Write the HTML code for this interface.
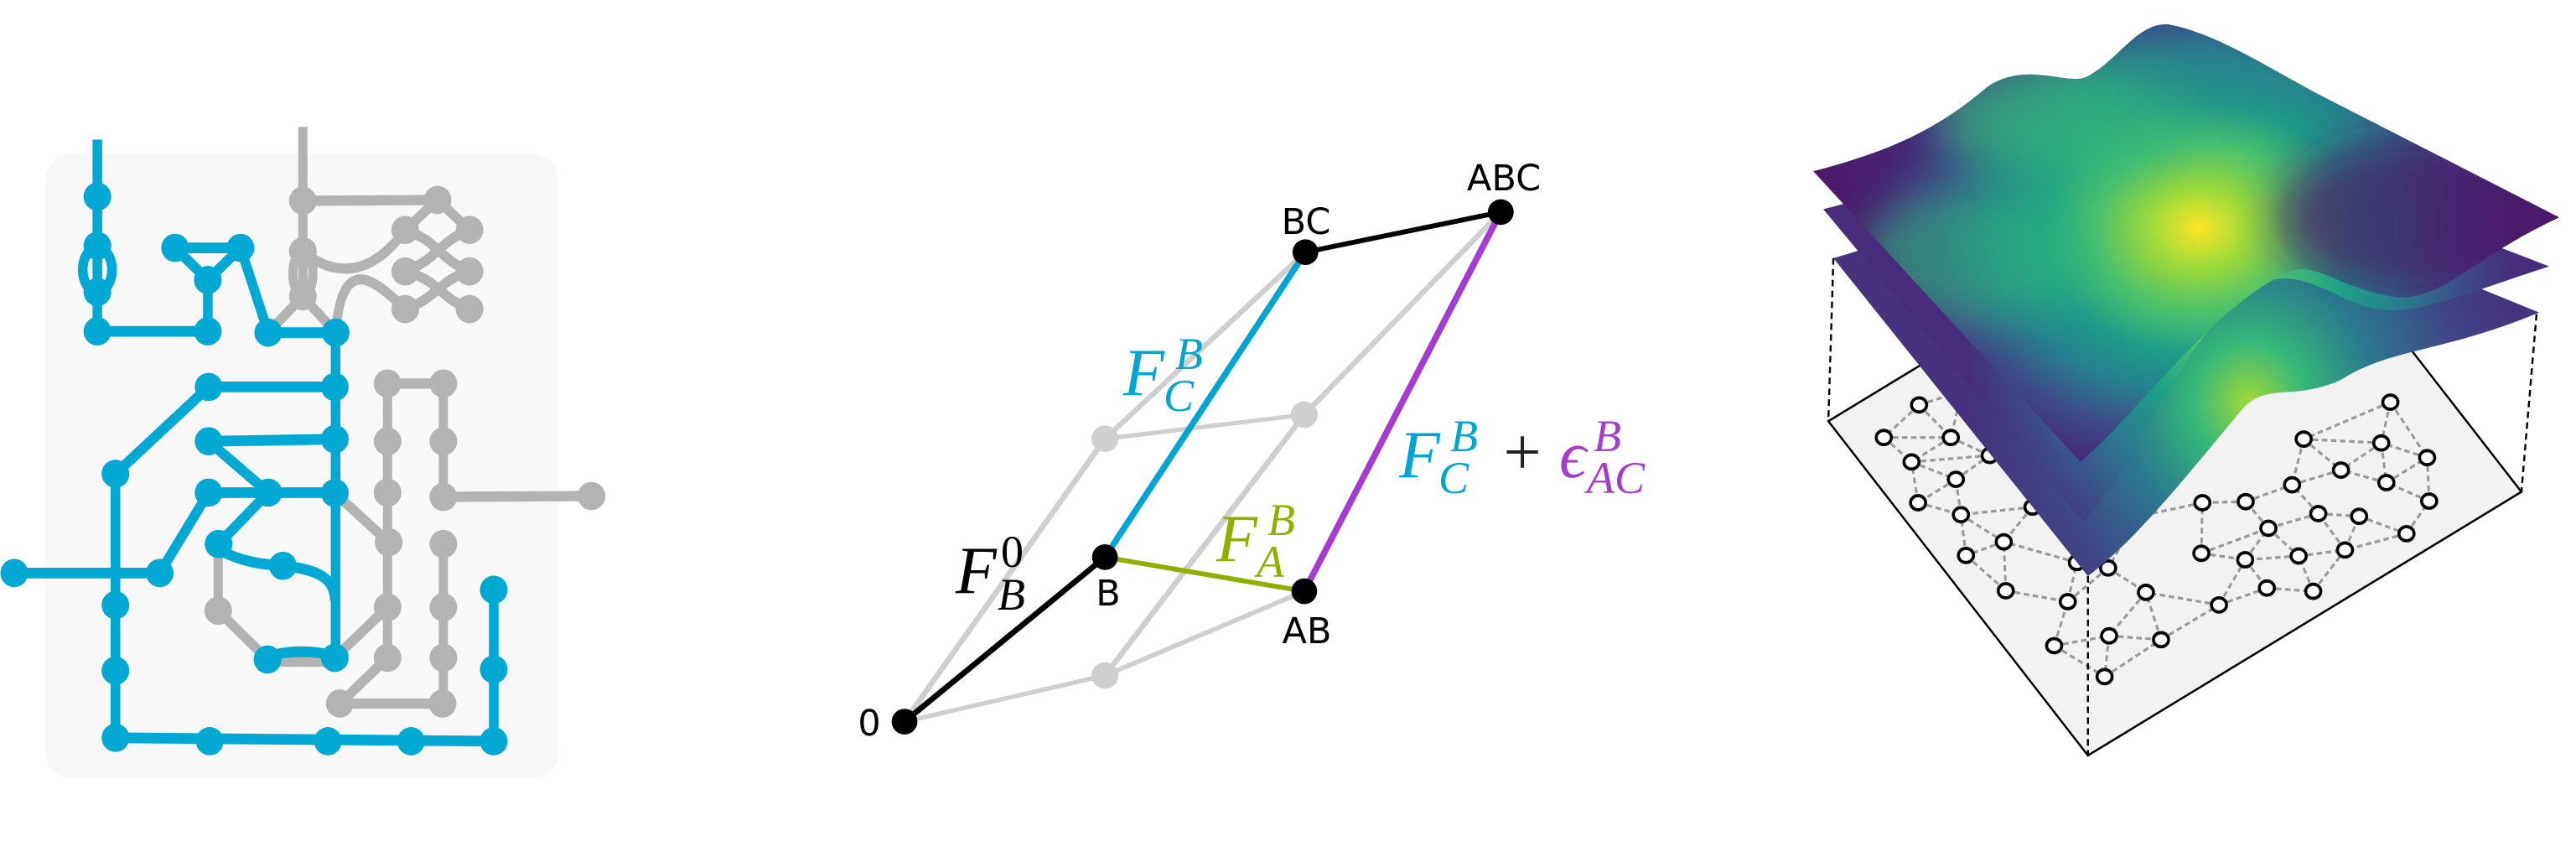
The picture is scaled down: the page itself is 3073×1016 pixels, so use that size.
<!DOCTYPE html>
<html><head><meta charset="utf-8"><style>
html,body{margin:0;padding:0;background:#fff;width:3073px;height:1016px;overflow:hidden}
svg{display:block}
.lbl{font-family:"DejaVu Sans","Liberation Sans",sans-serif;font-size:43px;fill:#000}
.m{font-family:"Liberation Serif","DejaVu Serif",serif;font-style:italic}
</style></head><body>
<svg id="fig" width="3073" height="1016" viewBox="0 0 3073 1016" xmlns="http://www.w3.org/2000/svg">
<defs>
  <radialGradient id="gTop" cx="820" cy="420" r="720" gradientUnits="userSpaceOnUse" gradientTransform="translate(820 420) scale(1 0.75) translate(-820 -420)">
    <stop offset="0" stop-color="#fde725"/><stop offset="0.13" stop-color="#a0da39"/><stop offset="0.29" stop-color="#4ac16d"/>
    <stop offset="0.43" stop-color="#1f9e89"/><stop offset="0.56" stop-color="#26828e"/><stop offset="0.72" stop-color="#3e4989"/>
    <stop offset="0.88" stop-color="#482475"/><stop offset="1" stop-color="#4b1a6a"/>
  </radialGradient>
  <radialGradient id="gMid" cx="900" cy="580" r="550" gradientUnits="userSpaceOnUse">
    <stop offset="0" stop-color="#b5de2b"/><stop offset="0.18" stop-color="#4ac16d"/><stop offset="0.38" stop-color="#1fa187"/>
    <stop offset="0.6" stop-color="#2a788e"/><stop offset="0.82" stop-color="#3e4a89"/><stop offset="1" stop-color="#472d7b"/>
  </radialGradient>
  <radialGradient id="gBot" cx="920" cy="740" r="560" gradientUnits="userSpaceOnUse">
    <stop offset="0" stop-color="#a0da39"/><stop offset="0.2" stop-color="#35b779"/><stop offset="0.45" stop-color="#2a788e"/>
    <stop offset="0.75" stop-color="#414487"/><stop offset="1" stop-color="#46327e"/>
  </radialGradient>
  <filter id="blur" x="-50%" y="-50%" width="200%" height="200%"><feGaussianBlur stdDeviation="40"/></filter>
  <clipPath id="clipTop"><path d="M55,315 C200,280 300,240 400,160 C480,110 560,160 600,140 C660,110 700,40 760,45 C850,60 950,120 1050,170 L1535,400 C1350,480 1300,560 1200,545 C1100,530 1050,480 1000,500 C850,560 700,760 585,850 Z"/></clipPath>
</defs>

<!-- Panel 1 -->
<g id="p1" transform="translate(0,140) scale(0.4591,0.5102)">
  <rect x="118" y="85" width="1334" height="1460" rx="70" ry="62" fill="#f8f8f8"/>
  <g id="p1gray" fill="none" stroke="#b3b3b3" stroke-width="24"></g>
  <g id="p1blue" fill="none" stroke="#00a9d4" stroke-width="25"></g>
</g>

<!-- Panel 2 -->
<g id="p2" transform="translate(1000,150) scale(0.6698,0.4785)"></g>
<g>
  <text class="lbl" x="1794" y="227" text-anchor="middle">ABC</text>
  <text class="lbl" x="1558" y="279" text-anchor="middle">BC</text>
  <text class="lbl" x="1322" y="722" text-anchor="middle">B</text>
  <text class="lbl" x="1559" y="767" text-anchor="middle">AB</text>
  <text class="lbl" x="1037" y="877" text-anchor="middle">0</text>

  <g fill="#00a5d4" class="m">
    <text x="1340" y="471" font-size="80">F</text><text x="1402" y="440" font-size="54">B</text><text x="1388" y="490" font-size="54">C</text>
  </g>
  <g fill="#000" class="m">
    <text x="1140" y="707" font-size="80">F</text><text x="1194" y="676" font-size="54" font-style="normal">0</text><text x="1190" y="727" font-size="54">B</text>
  </g>
  <g fill="#8fb000" class="m">
    <text x="1451" y="669" font-size="80">F</text><text x="1512" y="638" font-size="54">B</text><text x="1499" y="688" font-size="54">A</text>
  </g>
  <g class="m">
    <text x="1669" y="569" font-size="80" fill="#00a5d4">F</text><text x="1730" y="538" font-size="54" fill="#00a5d4">B</text><text x="1716" y="588" font-size="54" fill="#00a5d4">C</text>
    <text x="1816" y="566" font-size="80" fill="#222" font-style="normal" text-anchor="middle">+</text>
    <text x="1860" y="569" font-size="80" fill="#a63ccf">ϵ</text><text x="1901" y="538" font-size="54" fill="#a63ccf">B</text><text x="1893" y="588" font-size="54" fill="#a63ccf">AC</text>
  </g>
</g>

<!-- Panel 3 -->
<g id="p3" transform="translate(2130,0) scale(0.6013,0.6481)">
  <polygon points="85,775 600,1390 1460,905 945,290" fill="#f2f2f2" stroke="#000" stroke-width="4"/>
  <g id="p3edges" fill="none" stroke="#9a9a9a" stroke-width="5" stroke-dasharray="11,7"></g>
  <g id="p3nodes"></g>
  <line x1="95" y1="475" x2="85" y2="775" stroke="#000" stroke-width="4" stroke-dasharray="12,8"/>
  <line x1="1490" y1="578" x2="1460" y2="905" stroke="#000" stroke-width="4" stroke-dasharray="12,8"/>
  <path d="M95,475 C300,420 600,300 900,350 L1495,575 C1300,650 1200,640 1100,700 C1000,740 950,700 900,760 C800,870 700,990 600,1060 Z" fill="url(#gBot)"/>
  <path d="M75,385 C300,330 600,250 900,270 L1515,490 C1350,540 1250,580 1180,570 C1100,560 1030,490 950,520 C800,580 700,860 590,960 Z" fill="url(#gMid)"/>
  <path d="M55,315 C200,280 300,240 400,160 C480,110 560,160 600,140 C660,110 700,40 760,45 C850,60 950,120 1050,170 L1535,400 C1350,480 1300,560 1200,545 C1100,530 1050,480 1000,500 C850,560 700,760 585,850 Z" fill="url(#gTop)"/>
  <g clip-path="url(#clipTop)">
    <ellipse cx="560" cy="220" rx="260" ry="110" fill="#35b779" opacity="0.7" filter="url(#blur)"/>
    <ellipse cx="380" cy="470" rx="230" ry="120" fill="#2fb47c" opacity="0.6" filter="url(#blur)"/>
    <ellipse cx="1250" cy="400" rx="280" ry="150" fill="#4b1366" opacity="0.7" filter="url(#blur)"/>
    <ellipse cx="850" cy="140" rx="200" ry="70" fill="#2a8a8c" opacity="0.5" filter="url(#blur)"/>
  </g>
  <line x1="600" y1="1060" x2="600" y2="1390" stroke="#000" stroke-width="4" stroke-dasharray="12,8"/>
</g>

<script>
var NS='http://www.w3.org/2000/svg';
function mk(tag,attrs,parent){var e=document.createElementNS(NS,tag);for(var k in attrs)e.setAttribute(k,attrs[k]);parent.appendChild(e);return e;}

var grayPaths=["M787,22 L787,418","M787,195 L1137,193","M787,418 L697,503","M787,418 L872,503",
 "M787,313 C850,360 950,390 1053,263","M872,503 C880,420 900,370 950,380 C985,390 1020,420 1053,448",
 "M1137,193 L1053,263","M1137,193 L1220,263",
 "M1053,263 C1140,290 1140,330 1220,360","M1220,263 C1140,290 1140,330 1053,360",
 "M1053,360 C1140,380 1140,420 1220,448","M1220,360 C1140,380 1140,420 1053,448",
 "M1007,622 L1152,622","M1007,622 L1007,1263","M1152,622 L1152,887 L1537,885",
 "M870,878 L1010,993","M1152,997 L1152,1370 L883,1370 L1007,1263","M1007,1145 L870,1263",
 "M567,997 L567,1153 L695,1267","M695,1272 L870,1272"];
var grayNodes=[[787,195],[787,313],[787,418],[1137,193],[1053,263],[1220,263],[1053,360],[1220,360],[1053,448],[1220,448],
 [1007,622],[1152,622],[1007,757],[1152,757],[1007,877],[1152,887],[1537,885],[1010,993],[1152,997],[1007,1145],[1152,1145],
 [1007,1263],[1152,1263],[567,1153],[883,1370],[1150,1370]];
var bluePaths=["M253,52 L253,500","M253,500 L540,500","M455,305 L625,305 L540,380 Z","M540,380 L540,500",
 "M625,305 L697,503 L872,503","M872,503 L872,1263","M542,630 L870,630","M542,630 L300,833 L300,1450 L1283,1458 L1283,1104",
 "M542,757 L870,752","M542,757 L697,877","M542,877 L870,877","M542,877 L415,1065","M37,1065 L415,1065","M697,877 L568,997",
 "M568,1010 C640,1045 700,1045 735,1048 C800,1055 870,1065 870,1130","M695,1260 C750,1245 820,1245 870,1260"];
var blueNodes=[[253,185],[253,300],[253,408],[253,500],[455,305],[625,305],[540,380],[540,500],[697,503],[872,503],
 [542,630],[870,630],[542,757],[870,752],[542,877],[697,877],[870,878],[300,833],[37,1065],[415,1065],[568,997],[735,1048],
 [300,1140],[300,1293],[695,1267],[870,1263],[300,1450],[545,1458],[852,1458],[1068,1458],[1283,1458],[1283,1290],[1283,1104]];

var g1=document.getElementById('p1gray'), b1=document.getElementById('p1blue');
grayPaths.forEach(function(d){var e=mk('path',{d:d},g1);
 
 });
var gl=mk('ellipse',{cx:787,cy:365,rx:26,ry:50},g1);


grayNodes.forEach(function(p){var e=mk('ellipse',{cx:p[0],cy:p[1],rx:36,ry:33,fill:'#b3b3b3',stroke:'none'},g1);
 
 });
bluePaths.forEach(function(d){var e=mk('path',{d:d},b1);
 
 });
var bl=mk('ellipse',{cx:253,cy:356,rx:38,ry:52},b1);


blueNodes.forEach(function(p){var e=mk('ellipse',{cx:p[0],cy:p[1],rx:36,ry:33,fill:'#00a9d4',stroke:'none'},b1);
 
 });

var latNodes={O:[118,1485],B:[475,1075],AB:[830,1160],BC:[832,315],ABC:[1180,215],g1:[475,780],g2:[830,720],g3:[475,1370]};
var latGray=[["O","g1"],["g1","BC"],["g1","g2"],["g2","ABC"],["O","g3"],["g3","AB"],["g3","g2"]];
var latColored=[["O","B","#000"],["B","BC","#00a5d4"],["B","AB","#8fb000"],["AB","ABC","#a63ccf"],["BC","ABC","#000"]];
var p2=document.getElementById('p2');
latGray.forEach(function(s){var a=latNodes[s[0]],b=latNodes[s[1]];
 var e=mk('line',{x1:a[0],y1:a[1],x2:b[0],y2:b[1],stroke:'#cfcfcf','stroke-width':11},p2);
 
 });
['g1','g2','g3'].forEach(function(k){var p=latNodes[k];
 var e=mk('ellipse',{cx:p[0],cy:p[1],rx:24,ry:33,fill:'#cfcfcf'},p2);
 
 });
latColored.forEach(function(s){var a=latNodes[s[0]],b=latNodes[s[1]];
 var e=mk('line',{x1:a[0],y1:a[1],x2:b[0],y2:b[1],stroke:s[2],'stroke-width':12},p2);
 
 });
['O','B','AB','BC','ABC'].forEach(function(k){var p=latNodes[k];
 var e=mk('ellipse',{cx:p[0],cy:p[1],rx:23,ry:32,fill:'#000'},p2);
 
 });

var gNodes=[[265,745],[195,805],[328,805],[250,850],[338,882],[405,838],[263,925],[348,947],[490,933],[433,997],[358,1022],
 [437,1087],[560,1107],[578,1035],[640,1045],[533,1188],[642,1170],[745,1177],[633,1245],[715,1090],[825,1018],[860,1113],
 [912,1030],[955,1082],[958,972],[913,923],[827,925],[1047,1088],[1018,1023],[1110,1012],[1057,945],[1138,950],[1232,982],
 [1277,922],[1192,888],[1273,842],[1182,815],[1102,865],[1005,892],[1028,808],[700,950],[600,880],[1200,740],[350,720]];
var eg=document.getElementById('p3edges'), ng=document.getElementById('p3nodes');
var seen={};
gNodes.forEach(function(p,i){
  var d=gNodes.map(function(q,j){return [Math.hypot(q[0]-p[0],(q[1]-p[1])*1.6),j];}).sort(function(a,b){return a[0]-b[0];});
  for(var k=1;k<=3;k++){var j=d[k][1];var key=Math.min(i,j)+'-'+Math.max(i,j);if(seen[key])continue;seen[key]=1;
    var q=gNodes[j];var e=mk('line',{x1:p[0],y1:p[1],x2:q[0],y2:q[1]},eg);
    
    }
});
gNodes.forEach(function(p){var e=mk('ellipse',{cx:p[0],cy:p[1],rx:15,ry:13,fill:'#fff',stroke:'#000','stroke-width':6},ng);
 
 });
</script>
</svg>
</body></html>
